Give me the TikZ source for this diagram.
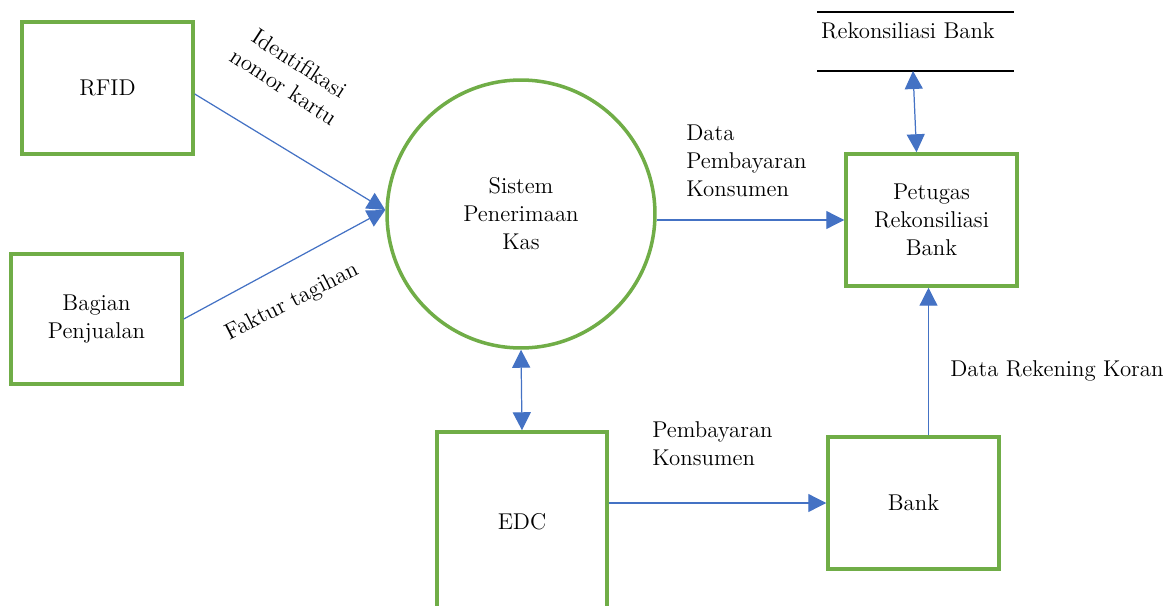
\documentclass[tikz,border=0pt]{standalone}
\usepackage{amsmath}
\usetikzlibrary{arrows.meta}
\definecolor{boxgreen}{HTML}{70AD47}
\definecolor{flowblue}{HTML}{4472C4}

\begin{document}
\begin{tikzpicture}[x=0.02cm,y=-0.02cm,
        font=\fontsize{13}{15.9}\selectfont,
        entity/.style={draw=boxgreen, line width=2pt, minimum width=3.42cm, minimum height=2.64cm, align=center},
        proc/.style={circle, draw=boxgreen, line width=2pt, minimum size=5.36cm, align=center},
        flow/.style={draw=flowblue, line width=0.7pt, -{Triangle[length=0.36cm, width=0.36cm]}},
        dflow/.style={flow, {Triangle[length=0.36cm, width=0.36cm]}-{Triangle[length=0.36cm, width=0.36cm]}},
        lbl/.style={align=left, inner sep=0pt}]
    \clip (0,0) rectangle (1176,605);
    % entities and process
    \node [entity] (rfid) at (107.5,88) {RFID};
    \node [entity, minimum height=2.6cm] (bagian) at (96.5,319) {Bagian\\Penjualan};
    \node [proc] (sys) at (521,214) {Sistem\\Penerimaan\\Kas};
    \node [entity, minimum width=3.4cm, minimum height=3.6cm] (edc) at (522,522) {EDC};
    \node [entity] (bank) at (913.5,503) {Bank};
    \node [entity] (pet) at (931.5,220) {Petugas\\Rekonsiliasi\\Bank};
    % data store
    \coordinate (dsa) at (817,12);
    \coordinate (dsb) at (1014,71);
    \node [inner sep=0pt] (ds) at (908,31) {Rekonsiliasi Bank};
    \draw [line width=0.7pt] (dsa) -- (dsa -| dsb);
    \draw [line width=0.7pt] (dsa |- dsb) -- (dsb);
    \coordinate (dsin) at (913,71);
    % flows
    \draw [flow] ([yshift=-0.12cm]rfid.east) -- ([yshift=0.08cm]sys.west);
    \draw [flow] (bagian.east) -- ([yshift=0.08cm]sys.west);
    \draw [flow] (sys.east |- pet.west) -- (pet.west);
    \draw [dflow] (sys.south) -- (edc.north);
    \draw [flow] (edc.east |- bank.west) -- (bank.west);
    \draw [flow] ([xshift=0.3cm]bank.north) -- ([xshift=0.3cm]bank.north |- pet.south);
    \draw [dflow] ([xshift=-0.3cm]pet.north) -- (dsin);
    % flow labels
    \node [lbl, align=center, rotate=-33] (l1) at (292,75) {Identifikasi\\nomor kartu};
    \node [lbl, rotate=27] (l2) at (292,302) {Faktur tagihan};
    \node [lbl, anchor=west] (l3) at (686,161) {Data\\Pembayaran\\Konsumen};
    \node [lbl, anchor=west] (l4) at (652,444) {Pembayaran\\Konsumen};
    \node [lbl, anchor=west] (l5) at (950,371) {Data Rekening Koran};
\end{tikzpicture}
\end{document}
